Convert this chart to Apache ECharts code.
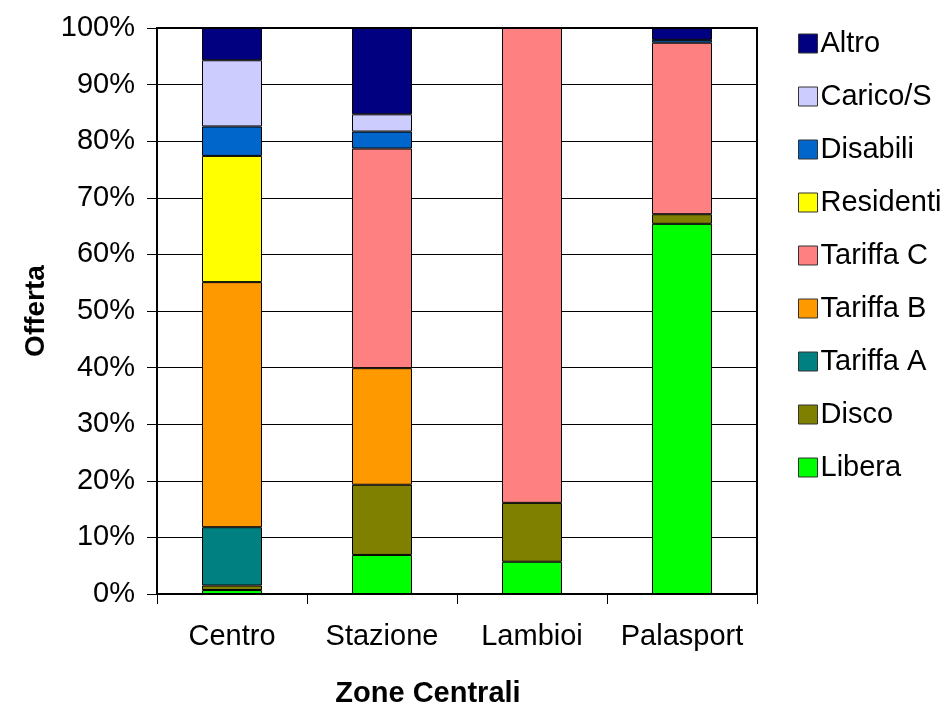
<!DOCTYPE html>
<html>
<head>
<meta charset="utf-8">
<script src="https://cdn.jsdelivr.net/npm/echarts@6/dist/echarts.min.js"></script>
<style>html,body{margin:0;padding:0;background:#fff}#c{width:943px;height:709px}</style>
</head>
<body>
<div id="c"></div>
<script>
const categories = ['Centro', 'Stazione', 'Lambioi', 'Palasport'];
const libera    = [0.7, 6.9, 5.7, 65.4];
const disco     = [0.8, 12.4, 10.4, 1.7];
const tariffaA  = [10.3, null, null, null];
const tariffaB  = [43.3, 20.6, null, null];
const tariffaC  = [null, 38.8, 83.9, 30.3];
const residenti = [22.3, null, null, null];
const disabili  = [5.2, 3.0, null, 0.5];
const carico    = [11.7, 3.05, null, null];
const altro     = [5.7, 15.25, null, 2.1];
const yTicks = [0, 10, 20, 30, 40, 50, 60, 70, 80, 90, 100];

const seriesDefs = [
  ['Libera', libera, '#00FF00'],
  ['Disco', disco, '#808000'],
  ['Tariffa A', tariffaA, '#008080'],
  ['Tariffa B', tariffaB, '#FF9900'],
  ['Tariffa C', tariffaC, '#FF8080'],
  ['Residenti', residenti, '#FFFF00'],
  ['Disabili', disabili, '#0066CC'],
  ['Carico/S', carico, '#CCCCFF'],
  ['Altro', altro, '#000080']
];

const font = 'Liberation Sans, Arial, sans-serif';
const chart = echarts.init(document.getElementById('c'));
chart.setOption({
  animation: false,
  backgroundColor: '#fff',
  grid: { left: 157, top: 28, width: 600, height: 566, containLabel: false, outerBoundsMode: 'none', show: true, borderColor: '#000', borderWidth: 2, backgroundColor: 'transparent' },
  legend: {
    orient: 'vertical', left: 793, top: 24, icon: 'rect',
    itemWidth: 19, itemHeight: 19, itemGap: 24,
    data: seriesDefs.map(s => s[0]).reverse(),
    textStyle: { fontFamily: font, fontSize: 29, color: '#000', padding: [0, 0, 0, -2] },
    itemStyle: { borderColor: '#333', borderWidth: 1 }
  },
  xAxis: {
    type: 'category', data: categories,
    name: 'Zone Centrali', nameLocation: 'middle', nameGap: 85,
    nameTextStyle: { fontFamily: font, fontSize: 29, fontWeight: 'bold', color: '#000', padding: [0, 58, 0, 0] },
    axisLine: { lineStyle: { color: '#000', width: 2 } },
    axisTick: { show: true, length: 10, interval: 0, lineStyle: { color: '#000' } },
    axisLabel: { fontFamily: font, fontSize: 29, color: '#000', margin: 28, interval: 0 }
  },
  yAxis: {
    type: 'value', min: 0, max: 100, interval: 10,
    name: 'Offerta', nameLocation: 'middle', nameGap: 107, nameRotate: 90,
    nameTextStyle: { fontFamily: font, fontSize: 28, fontWeight: 'bold', color: '#000' },
    axisLine: { show: true, lineStyle: { color: '#000', width: 2 } },
    axisTick: { show: true, length: 10, lineStyle: { color: '#000' } },
    axisLabel: { fontFamily: font, fontSize: 29, color: '#000', margin: 22, formatter: v => yTicks.includes(v) ? v + '%' : '' },
    splitLine: { show: true, lineStyle: { color: '#000', width: 1 } }
  },
  series: seriesDefs.map(([name, data, color]) => ({
    name, type: 'bar', stack: 'total', data, barWidth: 60,
    itemStyle: { color, borderColor: '#000', borderWidth: 1 }
  }))
});
</script>
</body>
</html>
